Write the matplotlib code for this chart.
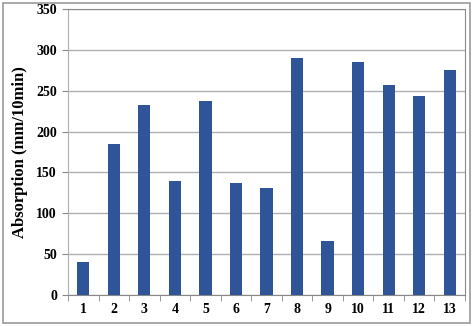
import matplotlib.pyplot as plt
from matplotlib.patches import Rectangle

categories = ["1", "2", "3", "4", "5", "6", "7", "8", "9", "10", "11", "12", "13"]
absorption = [40, 185, 233, 139, 238, 137, 131, 290, 66, 285, 257, 244, 275]
y_ticks = [0, 50, 100, 150, 200, 250, 300, 350]

plt.rcParams['font.family'] = ['Liberation Serif', 'DejaVu Serif']

fig = plt.figure(figsize=(4.73, 3.26), dpi=100)
ax = fig.add_axes([0.1438, 0.0951, 0.8393, 0.8773])

# outer chart border
fig.patches.append(Rectangle((3 / 473, 3 / 326), 467 / 473, 320 / 326,
                             transform=fig.transFigure, fill=False,
                             edgecolor="#9a9a9a", linewidth=1.2))

x = range(len(categories))
ax.bar(x, absorption, width=0.4, color="#2F5598", zorder=3)

ax.set_xlim(-0.5, len(categories) - 0.5)
ax.set_ylim(0, 350)
ax.set_yticks(y_ticks)
ax.set_yticklabels([str(t) for t in y_ticks], fontsize=10, fontweight="bold")
ax.set_xticks(list(x))
ax.set_xticklabels(categories, fontsize=10, fontweight="bold")
ax.tick_params(axis="x", length=0, pad=6)
ax.tick_params(axis="y", length=4, color="#888888", pad=4)

# category boundary ticks on x-axis
ax.set_xticks([i - 0.5 for i in range(len(categories) + 1)], minor=True)
ax.tick_params(axis="x", which="minor", length=4, color="#888888")

ax.grid(axis="y", color="#b0b0b0", linewidth=1.0, zorder=0)
ax.set_ylabel("Absorption (mm/10min)", fontsize=12, fontweight="bold", labelpad=6)

for side in ["top", "right"]:
    ax.spines[side].set_color("#8a8a8a")
ax.spines["left"].set_color("#b0b0b0")
ax.spines["bottom"].set_color("#888888")

fig.savefig("out.png", dpi=100)
